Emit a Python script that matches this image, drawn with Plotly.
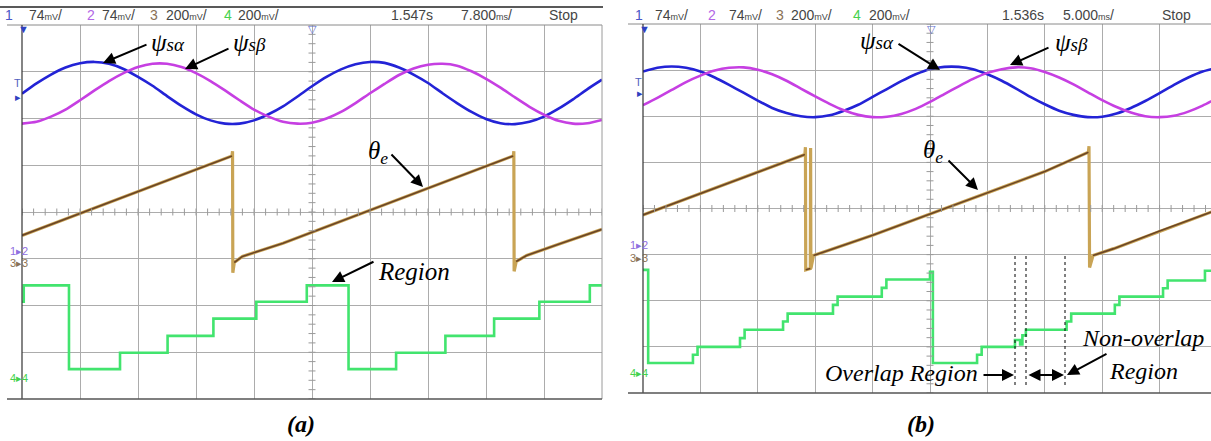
import plotly.graph_objects as go

W, H = 1211, 441

# ---------------- data (graticule divisions: x 0..10, y 0..8) ----------------
sample_x = [0.0, 0.25, 0.5, 0.75, 1.0, 1.25, 1.5, 1.75, 2.0, 2.25, 2.5, 2.75, 3.0, 3.25,
            3.5, 3.75, 4.0, 4.25, 4.5, 4.75, 5.0, 5.25, 5.5, 5.75, 6.0, 6.25, 6.5, 6.75,
            7.0, 7.25, 7.5, 7.75, 8.0, 8.25, 8.5, 8.75, 9.0, 9.25, 9.5, 9.75, 10.0]

# panel (a)
psi_alpha_a = [6.53, 6.75, 6.94, 7.09, 7.18, 7.21, 7.17, 7.06, 6.89, 6.70, 6.48, 6.27, 6.09, 5.96,
               5.89, 5.89, 5.96, 6.09, 6.26, 6.47, 6.69, 6.89, 7.05, 7.16, 7.21, 7.19, 7.09, 6.94,
               6.76, 6.54, 6.33, 6.14, 5.99, 5.90, 5.88, 5.93, 6.04, 6.21, 6.41, 6.63, 6.83]
psi_beta_a = [5.89, 5.93, 6.04, 6.19, 6.39, 6.60, 6.80, 6.97, 7.10, 7.17, 7.17, 7.10, 6.97, 6.80,
              6.60, 6.39, 6.19, 6.04, 5.93, 5.89, 5.91, 6.00, 6.14, 6.33, 6.54, 6.74, 6.93, 7.07,
              7.15, 7.17, 7.13, 7.01, 6.85, 6.66, 6.45, 6.25, 6.08, 5.95, 5.89, 5.90, 5.97]
theta_a_x = [0, 1, 2, 3, 3.62, 3.63, 3.635, 3.66, 3.80, 4.5, 5.5, 6.5, 7.5, 8.47, 8.48, 8.485,
             8.52, 8.70, 9.3, 10]
theta_a_y = [3.50, 3.97, 4.44, 4.91, 5.20, 5.30, 2.70, 2.92, 3.05, 3.33, 3.80, 4.27, 4.74, 5.20,
             5.30, 2.73, 2.94, 3.07, 3.33, 3.63]
region_a_x = [0, 0.03, 0.81, 1.69, 2.51, 3.30, 4.04, 4.91, 5.63, 6.45, 7.30, 8.14, 8.92, 9.79, 10]
region_a_y = [2.08, 2.43, 0.64, 0.99, 1.35, 1.72, 2.08, 2.43, 0.64, 0.99, 1.35, 1.72, 2.08, 2.43, 2.43]

# panel (b)
psi_alpha_b = [6.97, 7.05, 7.08, 7.05, 6.97, 6.84, 6.68, 6.51, 6.34, 6.18, 6.07, 6.00, 5.98, 6.02,
               6.12, 6.25, 6.42, 6.59, 6.76, 6.91, 7.02, 7.07, 7.07, 7.02, 6.91, 6.77, 6.60, 6.42,
               6.26, 6.12, 6.03, 5.98, 5.99, 6.06, 6.18, 6.33, 6.50, 6.68, 6.84, 6.97, 7.05]
psi_beta_b = [6.24, 6.40, 6.57, 6.74, 6.88, 6.99, 7.05, 7.06, 7.01, 6.91, 6.77, 6.60, 6.43, 6.27,
              6.13, 6.03, 5.98, 5.99, 6.05, 6.16, 6.31, 6.48, 6.65, 6.81, 6.94, 7.02, 7.06, 7.04,
              6.96, 6.84, 6.69, 6.52, 6.35, 6.20, 6.08, 6.00, 5.98, 6.01, 6.10, 6.23, 6.39]
theta_b_x = [0, 1, 2, 2.82, 2.83, 2.835, 2.915, 2.92, 2.925, 2.97, 3.30, 4, 5, 6, 7, 7.76, 7.77,
             7.78, 7.84, 8.20, 9, 10]
theta_b_y = [3.86, 4.32, 4.79, 5.17, 5.33, 2.67, 2.70, 5.31, 2.70, 2.98, 3.12, 3.42, 3.88, 4.34,
             4.80, 5.22, 5.35, 2.72, 2.98, 3.13, 3.51, 3.97]
region_b_x = [0, 0.09, 0.87, 0.95, 1.69, 1.77, 2.44, 2.52, 3.31, 3.39, 4.16, 4.24, 5.00, 5.05,
              5.82, 5.90, 6.48, 6.57, 6.61, 6.67, 7.38, 7.46, 8.22, 8.30, 9.06, 9.14, 9.79, 10]
region_b_y = [2.67, 0.65, 0.83, 1.00, 1.19, 1.37, 1.55, 1.72, 1.91, 2.09, 2.28, 2.46, 2.63, 0.65,
              0.83, 1.00, 1.15, 1.05, 1.25, 1.37, 1.55, 1.72, 1.91, 2.09, 2.27, 2.44, 2.65, 2.65]

# scope header texts
header_a = ["1", "74{u}/", "2", "74{u}/", "3", "200{u}/", "4", "200{u}/", "1.547s", "7.800{t}/", "Stop"]
header_b = ["1", "74{u}/", "2", "74{u}/", "3", "200{u}/", "4", "200{u}/", "1.536s", "5.000{t}/", "Stop"]

# ---------------- styles / geometry ----------------
BLUE = "#2323d6"
MAGENTA = "#c63fe2"
GREEN = "#42e46e"
BROWN = "#6b4526"
TAN = "#c9a455"
GRID = "#acacac"
CH_COLORS = ["#4a55c8", None, "#b266e6", None, "#8a7256", None, "#44d24c", None, None, None, None]
hdr_pos_a = [3, 27, 85, 100, 148, 164, 222, 236, 389, 459, 547]
hdr_pos_b = [633, 653, 706, 727, 774, 789, 851, 867, 1000, 1061, 1160]


def px(x):
    return x / W


def py(y):
    return 1 - y / H


fig = go.Figure()


def add_panel(xa, ya, psa, psb, tx, ty, rx, ry):
    fig.add_trace(go.Scatter(x=sample_x, y=psa, mode="lines", xaxis=xa, yaxis=ya,
                             line=dict(color=BLUE, width=2.6, shape="spline", smoothing=0.6)))
    fig.add_trace(go.Scatter(x=sample_x, y=psb, mode="lines", xaxis=xa, yaxis=ya,
                             line=dict(color=MAGENTA, width=2.6, shape="spline", smoothing=0.6)))
    # theta: tan underlay (incl. vertical resets) + dark brown ramps
    fig.add_trace(go.Scatter(x=tx, y=ty, mode="lines", xaxis=xa, yaxis=ya,
                             line=dict(color=TAN, width=3.2)))
    ox, oy = [], []
    for i in range(len(tx)):
        if i > 0 and tx[i] - tx[i - 1] < 0.065:
            ox.append(None)
            oy.append(None)
        ox.append(tx[i])
        oy.append(ty[i])
    fig.add_trace(go.Scatter(x=ox, y=oy, mode="lines", xaxis=xa, yaxis=ya,
                             line=dict(color=BROWN, width=1.6)))
    fig.add_trace(go.Scatter(x=rx, y=ry, mode="lines", xaxis=xa, yaxis=ya,
                             line=dict(color=GREEN, width=2.6, shape="hv")))
    # graticule minor ticks on the centre lines
    hx = [k * 0.2 for k in range(51)]
    vy = [k * 0.2 for k in range(41)]
    fig.add_trace(go.Scatter(x=hx, y=[4] * len(hx), mode="markers", xaxis=xa, yaxis=ya,
                             marker=dict(symbol="line-ns", size=5, line=dict(color="#9a9a9a", width=1))))
    fig.add_trace(go.Scatter(x=[5] * len(vy), y=vy, mode="markers", xaxis=xa, yaxis=ya,
                             marker=dict(symbol="line-ew", size=5, line=dict(color="#9a9a9a", width=1))))


add_panel("x", "y", psi_alpha_a, psi_beta_a, theta_a_x, theta_a_y, region_a_x, region_a_y)
add_panel("x2", "y2", psi_alpha_b, psi_beta_b, theta_b_x, theta_b_y, region_b_x, region_b_y)

axis_common = dict(showgrid=True, gridcolor=GRID, gridwidth=1, dtick=1, tick0=0, showticklabels=False,
                   ticks="", zeroline=False, showline=False, fixedrange=True)

fig.update_layout(
    width=W, height=H, margin=dict(l=0, r=0, t=0, b=0),
    paper_bgcolor="white", plot_bgcolor="white", showlegend=False,
    xaxis=dict(domain=[px(22), px(602)], range=[0, 10], **axis_common),
    yaxis=dict(domain=[py(399), py(25)], range=[0, 8], **axis_common),
    xaxis2=dict(domain=[px(643), 1.0], range=[0, 568 / 57.4], anchor="y2", **axis_common),
    yaxis2=dict(domain=[py(393), py(24)], range=[0, 8], anchor="x2", **axis_common),
)

shapes = []
# panel (a) frame
shapes += [
    dict(type="line", xref="paper", yref="paper", x0=px(0), x1=px(603), y0=py(7), y1=py(7),
         line=dict(color="#222", width=1.5)),
    dict(type="line", xref="paper", yref="paper", x0=px(7), x1=px(602), y0=py(25), y1=py(25),
         line=dict(color="#8a8a8a", width=1)),
    dict(type="line", xref="paper", yref="paper", x0=px(602), x1=px(602), y0=py(25), y1=py(399),
         line=dict(color="#9a9a9a", width=1)),
    dict(type="line", xref="paper", yref="paper", x0=px(22), x1=px(22), y0=py(25), y1=py(399),
         line=dict(color="#333", width=1.2)),
    dict(type="line", xref="paper", yref="paper", x0=px(7), x1=px(602), y0=py(399), y1=py(399),
         line=dict(color="#555", width=1.5)),
]
# panel (b) frame
shapes += [
    dict(type="line", xref="paper", yref="paper", x0=px(628), x1=px(1211), y0=py(24), y1=py(24),
         line=dict(color="#8a8a8a", width=1)),
    dict(type="line", xref="paper", yref="paper", x0=px(643), x1=px(643), y0=py(24), y1=py(393),
         line=dict(color="#333", width=1.2)),
    dict(type="line", xref="paper", yref="paper", x0=px(628), x1=px(1211), y0=py(393), y1=py(393),
         line=dict(color="#555", width=1.5)),
]
# dotted region markers in (b)
for xd in (1015, 1026, 1065):
    shapes.append(dict(type="line", xref="paper", yref="paper", x0=px(xd), x1=px(xd), y0=py(256),
                       y1=py(386), line=dict(color="black", width=1, dash="dot")))
fig.update_layout(shapes=shapes)

ann = []
UNIT_V = "<span style='font-size:9px'>mV</span>"
UNIT_T = "<span style='font-size:9px'>ms</span>"
HFONT = "Liberation Sans Narrow, Liberation Sans, Arial"
for texts, poss in ((header_a, hdr_pos_a), (header_b, hdr_pos_b)):
    for t, xpos, col in zip(texts, poss, CH_COLORS):
        ann.append(dict(x=px(xpos), y=py(15), xref="paper", yref="paper", xanchor="left",
                        yanchor="middle", showarrow=False,
                        text=t.format(u=UNIT_V, t=UNIT_T),
                        font=dict(family=HFONT, size=14, color=col or "#454545")))


def label(text, cx, cy, size=24, bold=False):
    t = "<i>" + text + "</i>"
    if bold:
        t = "<b>" + t + "</b>"
    ann.append(dict(x=px(cx), y=py(cy), xref="paper", yref="paper", xanchor="center",
                    yanchor="middle", showarrow=False, text=t,
                    font=dict(family="Liberation Serif, Times New Roman, serif", size=size,
                              color="black")))


def arrow(hx, hy, tx, ty, both=False):
    ann.append(dict(x=px(hx), y=py(hy), xref="paper", yref="paper", ax=tx - hx, ay=ty - hy,
                    axref="pixel", ayref="pixel", text="", showarrow=True, arrowhead=2,
                    arrowsize=1.2, arrowwidth=2, arrowcolor="black",
                    arrowside="end+start" if both else "end"))


PSI_A = "ψ<span style='font-size:19px'>sα</span>"
PSI_B = "ψ<span style='font-size:19px'>sβ</span>"
THETA = "θ<sub>e</sub>"

# panel (a) labels
label(PSI_A, 168, 42, 25)
arrow(103, 63, 148, 44)
label(PSI_B, 249, 42, 25)
arrow(185, 69, 230, 48)
label(THETA, 378, 152, 25)
arrow(423, 187, 390, 153)
label("Region", 414, 271, 25)
arrow(332, 282, 375, 261)
label("(a)", 301, 424, 24, bold=True)

# panel (b) labels
label(PSI_A, 877, 40, 25)
arrow(940, 70, 897, 43)
label(PSI_B, 1071, 42, 25)
arrow(1010, 65, 1050, 47)
label(THETA, 933, 151, 25)
arrow(978, 190, 947, 159)
label("Overlap Region", 901, 373, 24)
arrow(1014, 375, 982, 375)
arrow(1064, 375, 1027, 375, both=True)
label("Non-overlap", 1143, 338, 24)
label("Region", 1143, 371, 24)
arrow(1067, 375, 1108, 353)
label("(b)", 921, 424, 24, bold=True)

# scope side markers
SFONT = dict(family="Liberation Sans", size=11)
side = [
    ("T", 17, 83, "#5060c0"), ("▸", 18, 97, "#3040c0"),
    ("1▸2", 19, 251, "#9070e0"), ("3▸3", 19, 263, "#8a7256"), ("4▸4", 19, 378, "#44d24c"),
    ("▼", 23, 29, "#3040c0"), ("▽", 312, 29, "#6070d0"),
    ("T", 638, 82, "#5060c0"), ("▸", 640, 93, "#3040c0"),
    ("1▸2", 639, 245, "#9070e0"), ("3▸3", 639, 258, "#8a7256"), ("4▸4", 639, 373, "#44d24c"),
    ("▼", 644, 29, "#3040c0"), ("▽", 931, 29, "#6070d0"),
]
for t, xx, yy, c in side:
    ann.append(dict(x=px(xx), y=py(yy), xref="paper", yref="paper", xanchor="center",
                    yanchor="middle", showarrow=False, text=t, font=dict(color=c, **SFONT)))

fig.update_layout(annotations=ann)
fig.write_html("out.html")
